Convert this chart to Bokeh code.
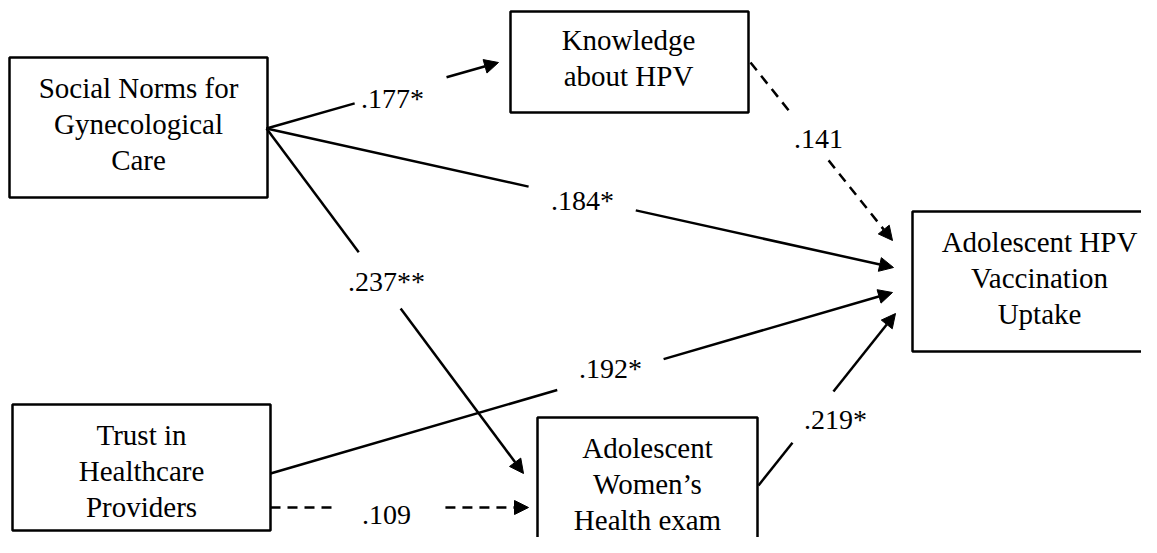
from bokeh.plotting import figure
from bokeh.models import Range1d, Arrow, NormalHead
from bokeh.core.properties import value
from bokeh.embed import file_html
from bokeh.resources import INLINE

# ---------------- data ----------------
node_labels = [
    "Social Norms for\nGynecological\nCare",
    "Knowledge\nabout HPV",
    "Adolescent HPV\nVaccination\nUptake",
    "Trust in\nHealthcare\nProviders",
    "Adolescent\nWomen\u2019s\nHealth exam",
]
edge_from = [0, 0, 0, 1, 3, 3, 4]
edge_to = [1, 2, 4, 2, 2, 4, 2]
edge_coef = [".177*", ".184*", ".237**", ".141", ".192*", ".109", ".219*"]
edge_significant = [True, True, True, False, True, False, True]

# ---------------- layout (screen positions) ----------------
box_left = [9, 510, 912, 12, 537]
box_right = [267, 748, 1166, 270, 757]
box_top = [57, 11, 211, 404, 417]
box_bottom = [197, 112, 351, 530, 560]
box_text_y = [127, 61.5, 281, 474, 487]
line_gap = [36, 36, 36, 36, 36]
text_cx = [138, 628, 1039, 141, 647]

start_x = [266, 266, 266, 750, 270, 270, 758]
start_y = [128, 128, 128, 62, 473, 507, 485]
tip_x = [498, 893, 523, 892, 892, 528, 895]
tip_y = [62, 267, 473, 240, 292, 507, 313]
gap0 = [0.38, 0.418, 0.359, 0.268, 0.461, 0.26, 0.248]
gap1 = [0.776, 0.589, 0.522, 0.55, 0.632, 0.678, 0.547]
label_x = [392, 582, 386, 818, 610, 386, 835]
label_y = [107, 209, 290, 147, 377, 523, 428]

TEXT_SHIFT = 9  # renderer places alphabetic baseline slightly lower
FONT = value("'Liberation Serif', 'Times New Roman', serif")
LW = 2.5
DASH = "10 7"

p = figure(width=1141, height=537, x_range=Range1d(0, 1141), y_range=Range1d(537, 0),
           output_backend="svg", toolbar_location=None, min_border=0,
           x_axis_location=None, y_axis_location=None)
p.grid.visible = False
p.outline_line_color = None
p.background_fill_color = "white"
p.border_fill_color = "white"

# boxes
p.quad(left=box_left, right=box_right, top=box_top, bottom=box_bottom,
       fill_color="white", line_color="black", line_width=LW)

# box texts
tx, ty, tt = [], [], []
for i, lab in enumerate(node_labels):
    lines = lab.split("\n")
    n = len(lines)
    cy = box_text_y[i]
    for j, ln in enumerate(lines):
        tx.append(text_cx[i])
        ty.append(cy + 5 - TEXT_SHIFT + (j - (n - 1) / 2.0) * line_gap[i])
        tt.append(ln)
p.text(x=tx, y=ty, text=tt, text_font=FONT, text_font_size="29px",
       text_align="center", text_baseline="alphabetic", text_color="black")

# edges
for k in range(len(edge_coef)):
    x0, y0, x1, y1 = start_x[k], start_y[k], tip_x[k], tip_y[k]
    ax = x0 + (x1 - x0) * gap0[k]
    ay = y0 + (y1 - y0) * gap0[k]
    bx = x0 + (x1 - x0) * gap1[k]
    by = y0 + (y1 - y0) * gap1[k]
    dash = "solid" if edge_significant[k] else DASH
    p.line([x0, ax], [y0, ay], line_color="black", line_width=LW, line_dash=dash)
    p.add_layout(Arrow(end=NormalHead(size=14, fill_color="black", line_color="black", line_width=1),
                       x_start=bx, y_start=by, x_end=x1, y_end=y1,
                       line_color="black", line_width=LW, line_dash=dash))

p.text(x=label_x, y=[v - TEXT_SHIFT for v in label_y], text=edge_coef, text_font=FONT,
       text_font_size="28px", text_align="center", text_baseline="alphabetic", text_color="black")

open("out.html", "w").write(file_html(p, INLINE))
